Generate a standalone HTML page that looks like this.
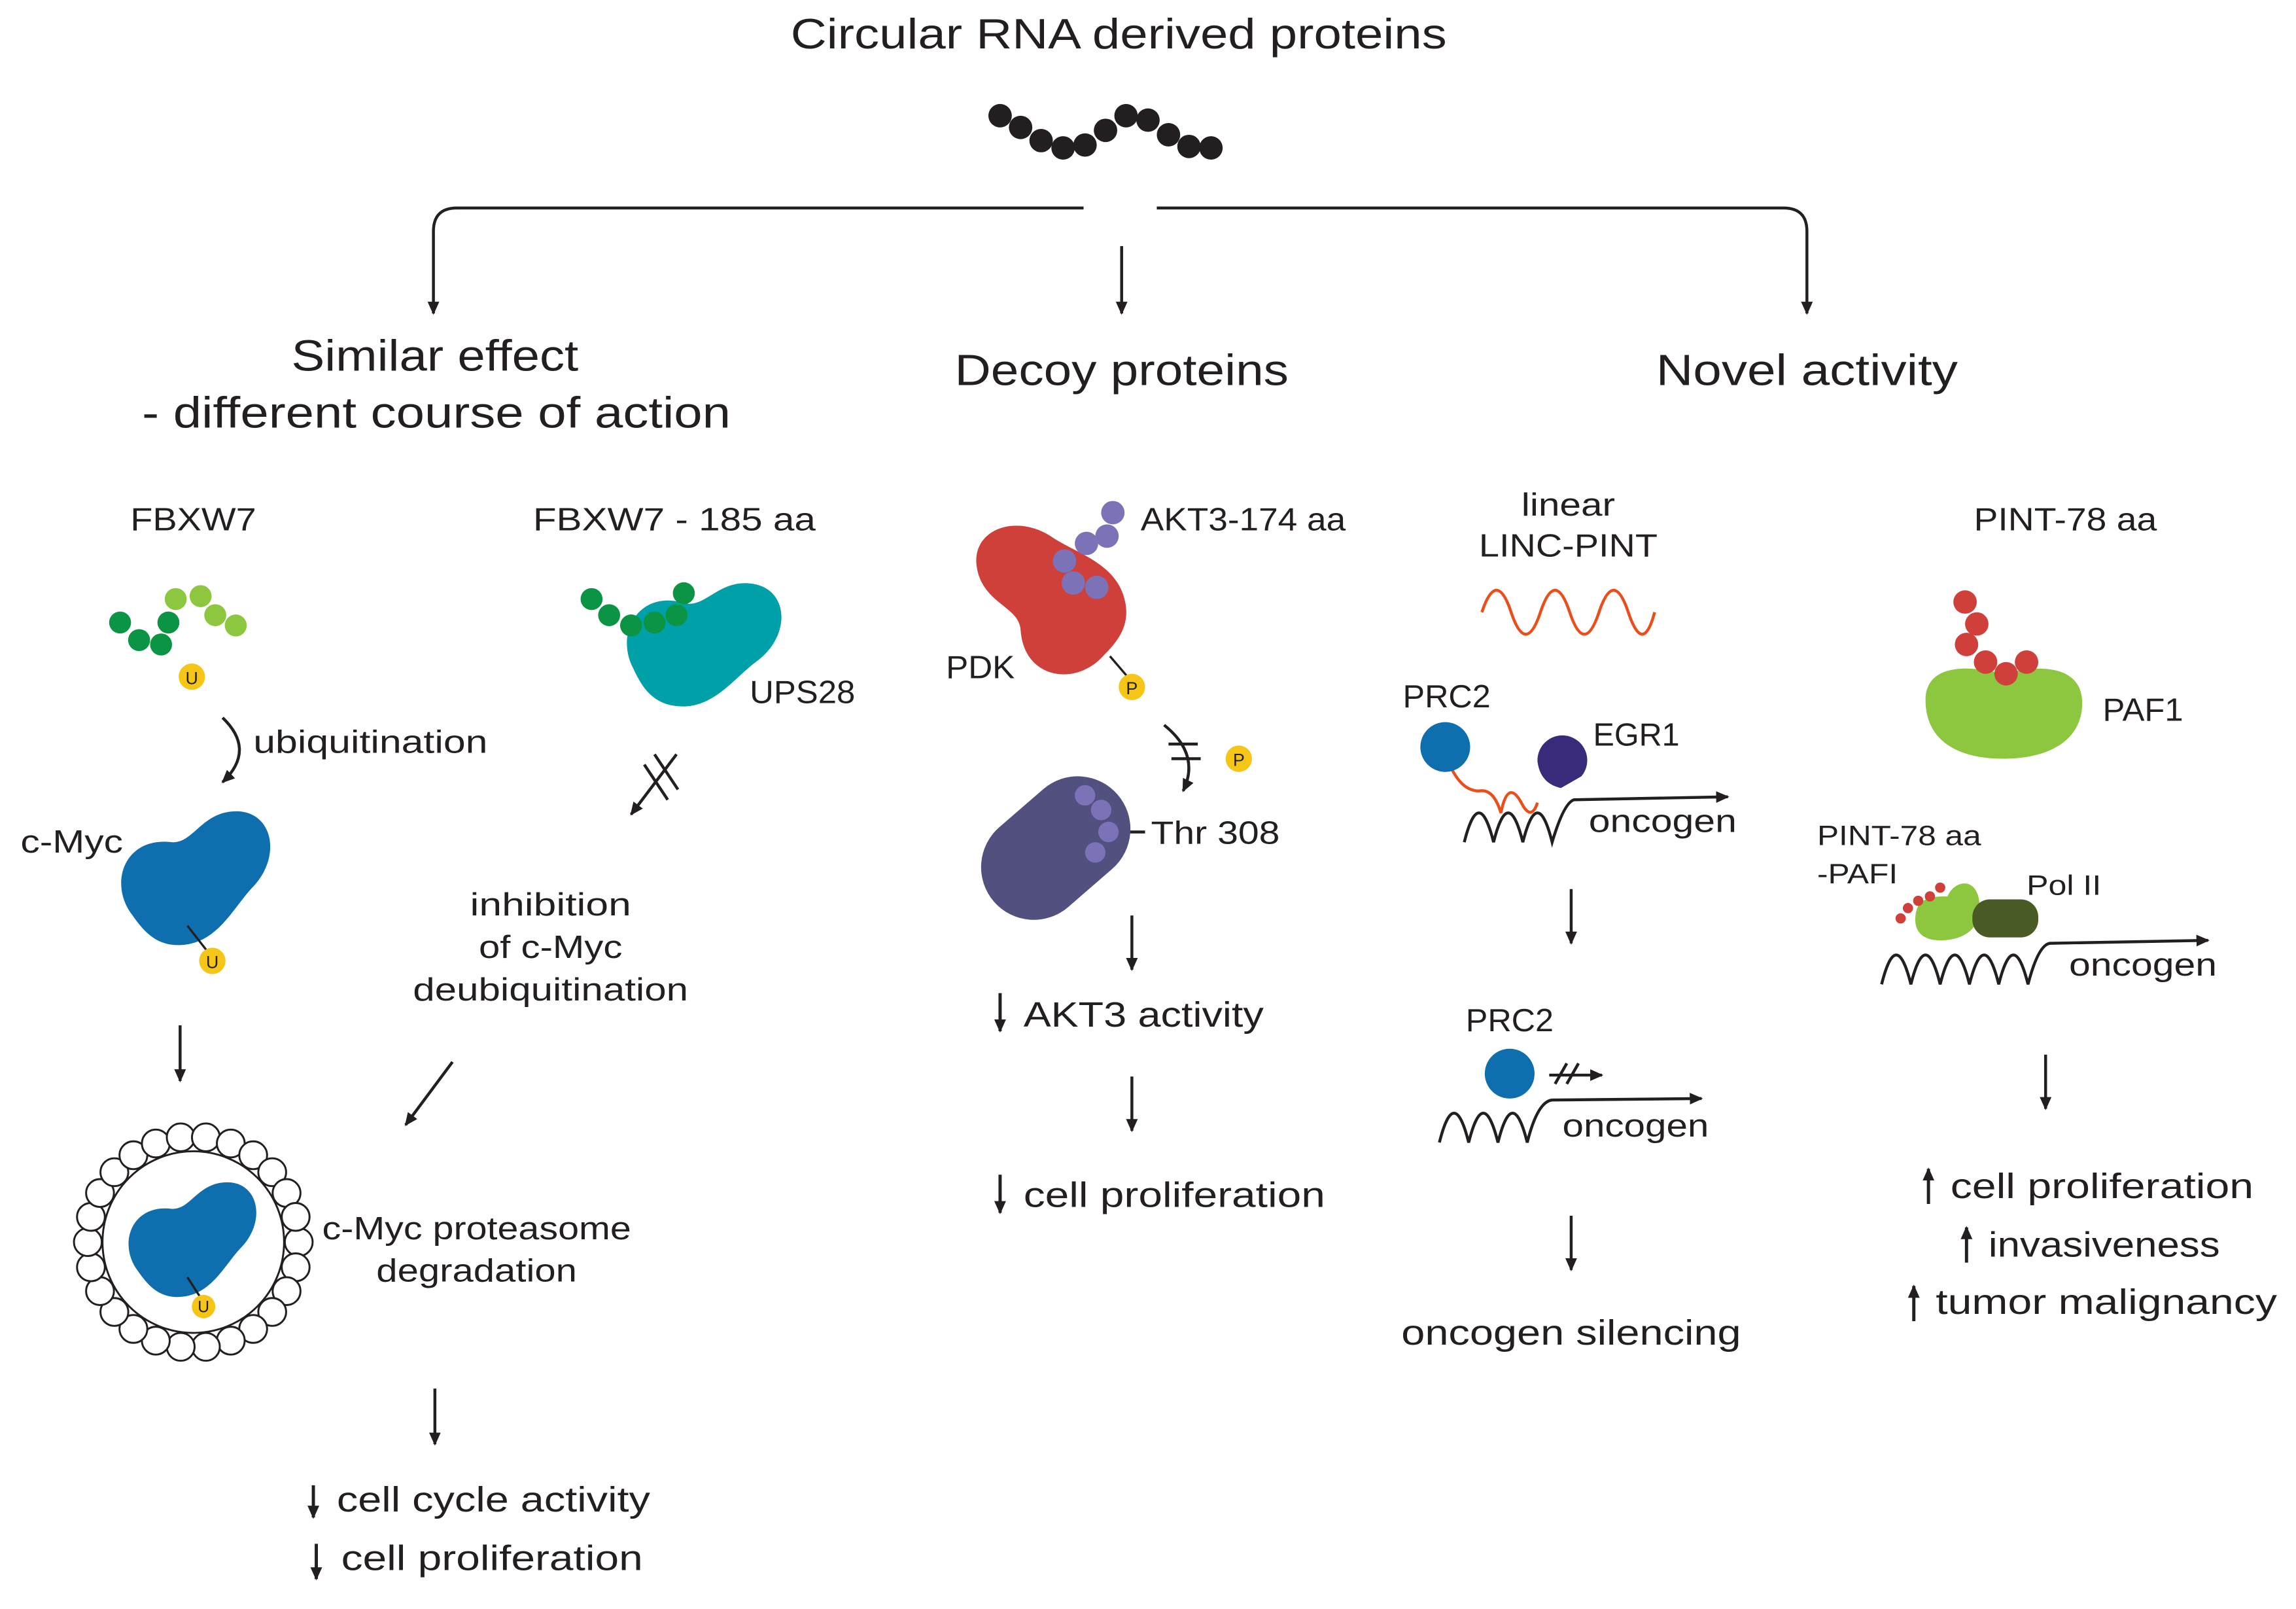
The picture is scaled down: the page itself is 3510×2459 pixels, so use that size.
<!DOCTYPE html>
<html><head><meta charset="utf-8"><style>
html,body{margin:0;padding:0;background:#fff}
svg{display:block}
text{font-family:"Liberation Sans",sans-serif;fill:#231f20}
</style></head><body>
<svg width="3510" height="2459" viewBox="0 0 1568 1098.5" xmlns="http://www.w3.org/2000/svg">
<defs>
<marker id="ah" markerWidth="10" markerHeight="10" refX="8" refY="5" orient="auto" markerUnits="userSpaceOnUse">
<path d="M0,1 L9,5 L0,9 Z" fill="#231f20"/></marker>
<path id="bean" d="M-40,25 C-55,5 -45,-25 -15,-22 C0,-20 5,-42 28,-42 C52,-42 58,-12 38,8 C25,22 15,45 -10,45 C-25,45 -33,35 -40,25Z"/>
</defs>
<rect width="1568" height="1098.5" fill="#fff"/>
<g stroke="#231f20" stroke-width="2" fill="none">
<path d="M740,142 H312 Q296,142 296,158 V214" marker-end="url(#ah)"/>
<path d="M790,142 H1218 Q1234,142 1234,158 V214" marker-end="url(#ah)"/>
<path d="M766,168 V214" marker-end="url(#ah)"/>
<path d="M123,700 V738" marker-end="url(#ah)"/>
<path d="M297,948 V986" marker-end="url(#ah)"/>
<path d="M309,725 L277,768" marker-end="url(#ah)"/>
<path d="M462,515 L431,556" marker-end="url(#ah)"/>
<path d="M440,522 L456,546 M447,515 L463,539"/>
<path d="M152,490 Q175,512 152,534" marker-end="url(#ah)"/>
<path d="M795,495 Q820,515 808,540" marker-end="url(#ah)"/>
<path d="M798,508 L818,508 M800,518 L820,518"/>
<path d="M773,625 V662" marker-end="url(#ah)"/>
<path d="M773,735 V772" marker-end="url(#ah)"/>
<path d="M1073,607 V644" marker-end="url(#ah)"/>
<path d="M1073,830 V867" marker-end="url(#ah)"/>
<path d="M1397,720 V757" marker-end="url(#ah)"/>
<path d="M1000,575 Q1010,535 1020,575 Q1030,535 1040,575 Q1050,535 1060,575 Q1068,548 1075,546 L1180,544" marker-end="url(#ah)"/>
<path d="M983,780 Q993,740 1003,780 Q1013,740 1023,780 Q1033,740 1043,780 Q1050,752 1060,751 L1162,750" marker-end="url(#ah)"/>
<path d="M1058,734 L1094,734" marker-end="url(#ah)"/>
<path d="M1062,740 L1070,726 M1070,740 L1078,726"/>
<path d="M1285,672 Q1295,632 1305,672 Q1315,632 1325,672 Q1335,632 1345,672 Q1355,632 1365,672 Q1375,632 1385,672 Q1392,645 1400,644 L1508,642" marker-end="url(#ah)"/>
<path d="M762,568 H782"/>
</g>
<g stroke="#231f20" stroke-width="2.2" fill="none">
<path d="M214,1014 V1036" marker-end="url(#ah)"/><path d="M216,1054 V1078" marker-end="url(#ah)"/>
<path d="M683,678 V704" marker-end="url(#ah)"/><path d="M683,802 V828" marker-end="url(#ah)"/>
<path d="M1317,822 V798" marker-end="url(#ah)"/><path d="M1343,862 V838" marker-end="url(#ah)"/><path d="M1307,902 V878" marker-end="url(#ah)"/>
</g>
<g fill="#231f20">
<circle cx="683" cy="79" r="8"/><circle cx="697" cy="87" r="8"/><circle cx="711" cy="96" r="8"/><circle cx="726" cy="101" r="8"/><circle cx="741" cy="99" r="8"/><circle cx="755" cy="89" r="8"/><circle cx="769" cy="79" r="8"/><circle cx="784" cy="82" r="8"/><circle cx="798" cy="92" r="8"/><circle cx="812" cy="100" r="8"/><circle cx="827" cy="101" r="8"/>
</g>
<g lengthAdjust="spacingAndGlyphs">
<text x="540" y="33" font-size="29" textLength="448" lengthAdjust="spacingAndGlyphs">Circular RNA derived proteins</text>
<text x="199" y="253" font-size="30" textLength="196" lengthAdjust="spacingAndGlyphs">Similar effect</text>
<text x="97" y="292" font-size="30" textLength="402" lengthAdjust="spacingAndGlyphs">- different course of action</text>
<text x="652" y="263" font-size="30" textLength="228" lengthAdjust="spacingAndGlyphs">Decoy proteins</text>
<text x="1131" y="263" font-size="30" textLength="206" lengthAdjust="spacingAndGlyphs">Novel activity</text>
</g>
<g font-size="22">
<text x="89" y="362" textLength="86" lengthAdjust="spacingAndGlyphs">FBXW7</text>
<text x="173" y="514" textLength="160" lengthAdjust="spacingAndGlyphs">ubiquitination</text>
<text x="14" y="582" textLength="70" lengthAdjust="spacingAndGlyphs">c-Myc</text>
<text x="220" y="846" textLength="211" lengthAdjust="spacingAndGlyphs">c-Myc proteasome</text>
<text x="257" y="875" textLength="137" lengthAdjust="spacingAndGlyphs">degradation</text>
<text x="230" y="1032" font-size="24" textLength="214" lengthAdjust="spacingAndGlyphs">cell cycle activity</text>
<text x="233" y="1072" font-size="24" textLength="206" lengthAdjust="spacingAndGlyphs">cell proliferation</text>
<text x="364" y="362" textLength="193" lengthAdjust="spacingAndGlyphs">FBXW7 - 185 aa</text>
<text x="512" y="480" textLength="72" lengthAdjust="spacingAndGlyphs">UPS28</text>
<text x="321" y="625" textLength="110" lengthAdjust="spacingAndGlyphs">inhibition</text>
<text x="327" y="654" textLength="98" lengthAdjust="spacingAndGlyphs">of c-Myc</text>
<text x="282" y="683" textLength="188" lengthAdjust="spacingAndGlyphs">deubiquitination</text>
<text x="779" y="362" textLength="140" lengthAdjust="spacingAndGlyphs">AKT3-174 aa</text>
<text x="646" y="463" textLength="47" lengthAdjust="spacingAndGlyphs">PDK</text>
<text x="786" y="576" textLength="88" lengthAdjust="spacingAndGlyphs">Thr 308</text>
<text x="699" y="701" font-size="24" textLength="164" lengthAdjust="spacingAndGlyphs">AKT3 activity</text>
<text x="699" y="824" font-size="24" textLength="206" lengthAdjust="spacingAndGlyphs">cell proliferation</text>
<text x="1039" y="352" textLength="64" lengthAdjust="spacingAndGlyphs">linear</text>
<text x="1010" y="380" textLength="122" lengthAdjust="spacingAndGlyphs">LINC-PINT</text>
<text x="958" y="483" textLength="60" lengthAdjust="spacingAndGlyphs">PRC2</text>
<text x="1088" y="509" textLength="59" lengthAdjust="spacingAndGlyphs">EGR1</text>
<text x="1085" y="568" textLength="101" lengthAdjust="spacingAndGlyphs">oncogen</text>
<text x="1001" y="704" textLength="60" lengthAdjust="spacingAndGlyphs">PRC2</text>
<text x="1067" y="776" textLength="100" lengthAdjust="spacingAndGlyphs">oncogen</text>
<text x="957" y="918" font-size="24" textLength="232" lengthAdjust="spacingAndGlyphs">oncogen silencing</text>
<text x="1348" y="362" textLength="125" lengthAdjust="spacingAndGlyphs">PINT-78 aa</text>
<text x="1436" y="492" textLength="55" lengthAdjust="spacingAndGlyphs">PAF1</text>
<text x="1241" y="577" font-size="19" textLength="112" lengthAdjust="spacingAndGlyphs">PINT-78 aa</text>
<text x="1241" y="603" font-size="19" textLength="55" lengthAdjust="spacingAndGlyphs">-PAFI</text>
<text x="1384" y="611" font-size="19" textLength="51" lengthAdjust="spacingAndGlyphs">Pol II</text>
<text x="1413" y="666" textLength="101" lengthAdjust="spacingAndGlyphs">oncogen</text>
<text x="1332" y="818" font-size="24" textLength="207" lengthAdjust="spacingAndGlyphs">cell proliferation</text>
<text x="1358" y="858" font-size="24" textLength="158" lengthAdjust="spacingAndGlyphs">invasiveness</text>
<text x="1322" y="897" font-size="24" textLength="233" lengthAdjust="spacingAndGlyphs">tumor malignancy</text>
</g>
<!-- FBXW7 beads -->
<g fill="#0b9444"><circle cx="82" cy="425" r="7.5"/><circle cx="95" cy="437" r="7.5"/><circle cx="110" cy="440" r="7.5"/><circle cx="115" cy="425" r="7.5"/></g>
<g fill="#8dc63f"><circle cx="120" cy="409" r="7.5"/><circle cx="137" cy="407" r="7.5"/><circle cx="147" cy="420" r="7.5"/><circle cx="161" cy="427" r="7.5"/></g>
<circle cx="131" cy="462" r="9" fill="#f5c518"/><text x="131" y="467" font-size="12" text-anchor="middle">U</text>
<use href="#bean" transform="translate(132,598) scale(1.05)" fill="#0f6eae"/>
<line x1="128" y1="632" x2="142" y2="650" stroke="#231f20" stroke-width="1.5"/>
<circle cx="145" cy="656" r="9" fill="#f5c518"/><text x="145" y="661" font-size="12" text-anchor="middle">U</text>
<!-- proteasome -->
<g fill="#fff" stroke="#231f20" stroke-width="1.3">
<circle cx="204" cy="848" r="9.5"/><circle cx="201.9" cy="865.2" r="9.5"/><circle cx="195.7" cy="881.5" r="9.5"/><circle cx="185.9" cy="895.7" r="9.5"/><circle cx="172.9" cy="907.3" r="9.5"/><circle cx="157.6" cy="915.3" r="9.5"/><circle cx="140.6" cy="919.5" r="9.5"/><circle cx="123.4" cy="919.5" r="9.5"/><circle cx="106.4" cy="915.3" r="9.5"/><circle cx="91.1" cy="907.3" r="9.5"/><circle cx="78.1" cy="895.7" r="9.5"/><circle cx="68.3" cy="881.5" r="9.5"/><circle cx="62.1" cy="865.2" r="9.5"/><circle cx="60" cy="848" r="9.5"/><circle cx="62.1" cy="830.8" r="9.5"/><circle cx="68.3" cy="814.5" r="9.5"/><circle cx="78.1" cy="800.3" r="9.5"/><circle cx="91.1" cy="788.7" r="9.5"/><circle cx="106.4" cy="780.7" r="9.5"/><circle cx="123.4" cy="776.5" r="9.5"/><circle cx="140.6" cy="776.5" r="9.5"/><circle cx="157.6" cy="780.7" r="9.5"/><circle cx="172.9" cy="788.7" r="9.5"/><circle cx="185.9" cy="800.3" r="9.5"/><circle cx="195.7" cy="814.5" r="9.5"/><circle cx="201.9" cy="830.8" r="9.5"/>
<circle cx="132" cy="848" r="62"/>
</g>
<use href="#bean" transform="translate(130,845) scale(0.9)" fill="#0f6eae"/>
<line x1="128" y1="872" x2="137" y2="886" stroke="#231f20" stroke-width="1.5"/>
<circle cx="139" cy="892" r="8" fill="#f5c518"/><text x="139" y="896" font-size="11" text-anchor="middle">U</text>
<!-- FBXW7-185 -->
<use href="#bean" transform="translate(478,437) scale(1.05) rotate(10)" fill="#00a0a8"/>
<g fill="#0b9444"><circle cx="404" cy="409" r="7.5"/><circle cx="416" cy="420" r="7.5"/><circle cx="431" cy="427" r="7.5"/><circle cx="447" cy="425" r="7.5"/><circle cx="462" cy="420" r="7.5"/><circle cx="467" cy="405" r="7.5"/></g>
<!-- AKT3 -->
<use href="#bean" transform="translate(718,410) scale(1.1) rotate(-100)" fill="#d0403b"/>
<g fill="#7b72b8"><circle cx="760" cy="350" r="8"/><circle cx="756" cy="366" r="8"/><circle cx="742" cy="371" r="8"/><circle cx="727" cy="383" r="8"/><circle cx="733" cy="398" r="8"/><circle cx="749" cy="401" r="8"/></g>
<line x1="758" y1="448" x2="770" y2="462" stroke="#231f20" stroke-width="1.5"/>
<circle cx="773" cy="469" r="9" fill="#f5c518"/><text x="773" y="474" font-size="12" text-anchor="middle">P</text>
<circle cx="846" cy="518" r="9" fill="#f5c518"/><text x="846" y="523" font-size="12" text-anchor="middle">P</text>
<line x1="706" y1="592" x2="736" y2="566" stroke="#52507e" stroke-width="72" stroke-linecap="round"/>
<g fill="#7b72b8"><circle cx="741" cy="543" r="7"/><circle cx="752" cy="553" r="7"/><circle cx="757" cy="568" r="7"/><circle cx="748" cy="582" r="7"/></g>
<!-- LINC-PINT -->
<path d="M1012,418 Q1022,388 1032,418 Q1042,448 1052,418 Q1062,388 1072,418 Q1082,448 1092,418 Q1102,388 1112,418 Q1122,448 1130,418" fill="none" stroke="#e94e1b" stroke-width="2"/>
<path d="M990,522 Q998,540 1010,540 Q1020,538 1025,555 Q1030,530 1040,550 Q1046,560 1050,548" fill="none" stroke="#e94e1b" stroke-width="2"/>
<circle cx="987" cy="510" r="17" fill="#0f6eae"/>
<path d="M1050,520 a17,17 0 1,1 30,10 L1066,538 Q1052,535 1050,520Z" fill="#3a2a7a"/>
<circle cx="1031" cy="733" r="17" fill="#0f6eae"/>
<!-- PINT -->
<path d="M1315,478 C1315,455 1340,453 1368,460 C1395,453 1422,455 1422,480 C1422,505 1400,518 1368,518 C1336,518 1315,505 1315,478Z" fill="#8dc63f"/>
<g fill="#d0403b"><circle cx="1342" cy="411" r="8"/><circle cx="1350" cy="426" r="8"/><circle cx="1343" cy="440" r="8"/><circle cx="1356" cy="452" r="8"/><circle cx="1370" cy="460" r="8"/><circle cx="1384" cy="452" r="8"/></g>
<path d="M1308,628 C1308,612 1320,612 1330,612 C1335,600 1352,598 1352,620 C1352,635 1340,642 1325,642 C1313,642 1308,636 1308,628Z" fill="#8dc63f"/>
<rect x="1347" y="614" width="45" height="26" rx="12" fill="#4a5a25"/>
<g fill="#d0403b"><circle cx="1298" cy="627" r="3.5"/><circle cx="1303" cy="620" r="3.5"/><circle cx="1310" cy="615" r="3.5"/><circle cx="1318" cy="612" r="3.5"/><circle cx="1325" cy="606" r="3.5"/></g>
</svg>
</body></html>
